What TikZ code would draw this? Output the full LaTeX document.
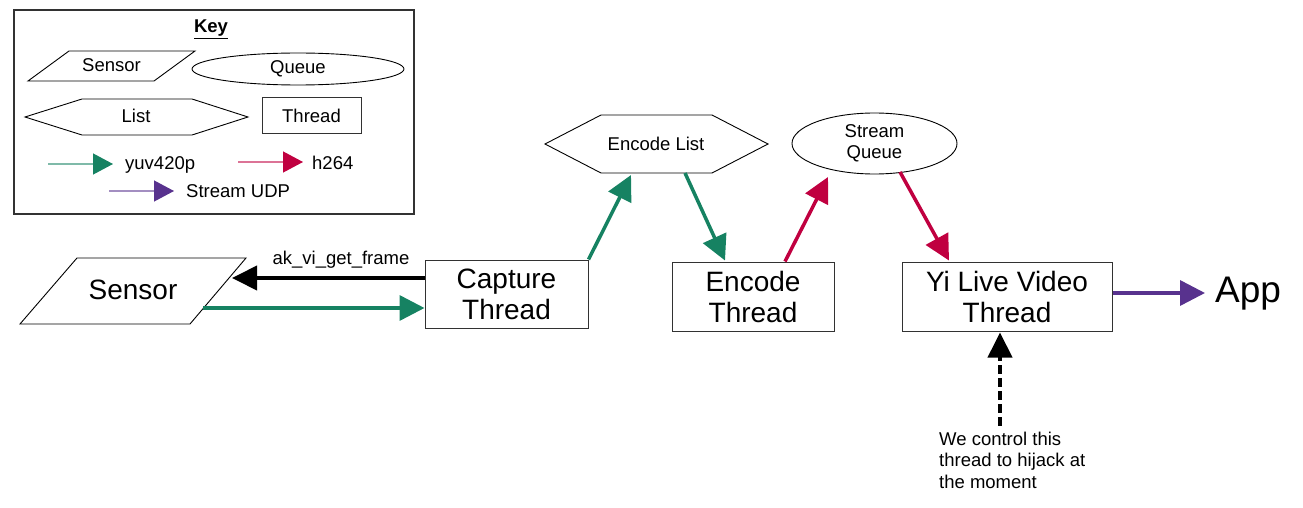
\documentclass[tikz,border=0pt]{standalone}
\usepackage{fontspec}
\setmainfont{Liberation Sans}
\usetikzlibrary{arrows.meta,shapes.geometric}
\definecolor{flowgreen}{RGB}{22,130,98}
\definecolor{flowred}{RGB}{192,0,64}
\definecolor{flowpurple}{RGB}{88,50,142}
\definecolor{edgegray}{RGB}{50,50,50}

\begin{document}
\begin{tikzpicture}[x=1pt,y=-1pt,
  thread/.style={draw=edgegray, line width=1pt, fill=white, inner sep=0pt,
    align=center, font=\fontsize{28}{31}\selectfont},
  outline/.style={draw=black, line width=0.9pt},
  small/.style={font=\fontsize{18.5}{21.3}\selectfont, inner sep=0pt},
  big/.style={font=\fontsize{28}{31}\selectfont, inner sep=0pt},
  flow/.style={line width=3.5pt, draw=#1, -{Triangle[length=25pt,width=25pt,color=#1]}},
  keyflow/.style={line width=1.2pt, draw=#1!55, -{Triangle[length=20pt,width=21pt,color=#1]}},
]
\useasboundingbox (0,0) rectangle (1303,508);

% ---- key ----
\node[draw=edgegray, line width=1.2pt, minimum width=400pt, minimum height=204pt,
  inner sep=0pt] (keybox) at (214,112) {};
\node[small, anchor=base] (keytitle) at (211,33) {\underline{\textbf{Key}}};

\draw[outline] (28,81) -- (69,51) -- (195,51) -- (154,81) -- cycle;
\node[small, anchor=base] (ksensor) at (111.5,72) {Sensor};
\node[outline, ellipse, minimum width=212pt, minimum height=32pt, small]
  (kqueue) at (298,69) {Queue};
\draw[outline] (25,117) -- (82,99) -- (192,99) -- (248,117) -- (192,135) -- (82,135) -- cycle;
\node[small, anchor=base] (klist) at (136,123) {List};
\node[draw=edgegray, line width=1pt, minimum width=99pt, minimum height=36pt, small]
  (kthread) at (311.5,116) {Thread};

\coordinate (kg1) at (48,164);  \coordinate (kg2) at (113,164);
\coordinate (kr1) at (238,162); \coordinate (kr2) at (303,162);
\coordinate (kp1) at (109,191); \coordinate (kp2) at (174,191);
\draw[keyflow=flowgreen] (kg1) -- (kg2);
\draw[keyflow=flowred] (kr1) -- (kr2);
\draw[keyflow=flowpurple] (kp1) -- (kp2);
\node[small, anchor=base west] (kyuv) at (125,169) {yuv420p};
\node[small, anchor=base west] (kh264) at (312,169) {h264};
\node[small, anchor=base west] (kudp) at (186,197) {Stream UDP};

% ---- pipeline ----
\draw[outline] (20,324) -- (77,258) -- (246,258) -- (190,324) -- cycle;
\node[big, anchor=base] (sensor) at (133,299) {Sensor};

\node[thread, minimum width=163pt, minimum height=68pt] (cap) at (506.5,294) {Capture\\Thread};
\node[thread, minimum width=162pt, minimum height=69pt] (enc) at (753,296.5) {Encode\\Thread};
\node[thread, minimum width=210pt, minimum height=69pt] (yi) at (1007,296.5) {Yi Live Video\\Thread};

\draw[outline] (545,144) -- (601,115) -- (712,115) -- (768,144) -- (712,173) -- (601,173) -- cycle;
\node[small, anchor=base] (elist) at (656,150) {Encode List};

\node[outline, ellipse, minimum width=165pt, minimum height=61pt, small, align=center]
  (squeue) at (874.5,143.5) {Stream\\Queue};

\node[font=\fontsize{37}{44}\selectfont, inner sep=0pt, anchor=base west] (app) at (1215,302) {App};

\node[small, font=\fontsize{18.5}{21.8}\selectfont, align=left, anchor=north west] (note) at (939,431.5)
  {We control this\\thread to hijack at\\the moment};

% attachment points
\coordinate (sensorIn) at (232,278);
\coordinate (sensorOut) at (203,308);
\coordinate (elistIn) at (631,175);
\coordinate (elistOut) at (685,173);
\coordinate (squeueIn) at (828,177);
\coordinate (squeueOut) at (900,172);
\coordinate (appIn) at (1205,293);

% connectors
\draw[line width=4pt, -{Triangle[length=25pt,width=24pt]}] (cap.west |- sensorIn) -- (sensorIn);
\node[small, anchor=base] (getframe) at (341,264) {ak\_vi\_get\_frame};
\draw[flow=flowgreen] (sensorOut) -- (cap.west |- sensorOut);
\draw[flow=flowgreen] (cap.north east) -- (elistIn);
\draw[flow=flowgreen] (elistOut) -- ([yshift=1pt]enc.north -| 725,0);
\draw[flow=flowred] (enc.north -| 785,0) -- (squeueIn);
\draw[flow=flowred] (squeueOut) -- ([yshift=1pt]yi.north -| 949,0);
\draw[flow=flowpurple] (yi.east |- appIn) -- (appIn);
\draw[line width=4pt, dash pattern=on 9pt off 4pt, -{Triangle[length=25pt,width=24pt]}]
  ([yshift=6pt]note.north -| 1000,0) -- ([yshift=-1pt]yi.south -| 1000,0);
\end{tikzpicture}
\end{document}
